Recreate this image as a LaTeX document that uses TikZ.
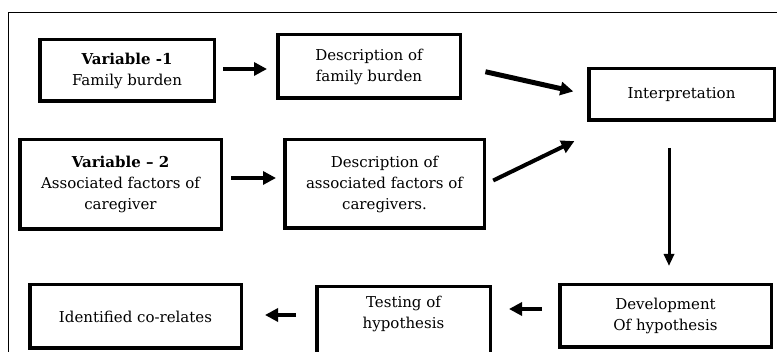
\documentclass[tikz,border=0pt]{standalone}
\usepackage{fontspec}
\setmainfont{DejaVu Serif}
\usetikzlibrary{arrows.meta}

\begin{document}
\begin{tikzpicture}[x=1pt,y=-1pt,
		box/.style={draw,line width=3.5pt,align=center,inner sep=0pt,font=\fontsize{15}{21}\selectfont},
		flow/.style={-{Triangle[length=13pt,width=13pt]},line width=4pt},
		thinflow/.style={-{Triangle[length=12pt,width=10pt]},line width=3pt}]
		\useasboundingbox (0,0) rectangle (777,352);
		\clip (0,0) rectangle (777,352);
		\draw[line width=1pt] (8,370) -- (8,13) -- (800,13);
		
		\node[box,minimum width=174.5pt,minimum height=61.5pt] (var1) at (127,70.5) {\textbf{Variable -1}\\Family burden};
		\node[box,minimum width=182.5pt,minimum height=63.5pt] (desc1) at (369,66.5) {Description of\\family burden};
		\node[box,minimum width=185.5pt,minimum height=51.5pt] (interp) at (681.5,94.5) {Interpretation};
		
		\node[box,minimum width=201.5pt,minimum height=89.5pt] (var2) at (120.5,184.5) {\textbf{Variable – 2}\\Associated factors of\\caregiver};
		\node[box,minimum width=199.5pt,minimum height=88.5pt] (desc2) at (384.5,184) {Description of\\associated factors of\\caregivers.};
		
		\node[box,minimum width=211.5pt,minimum height=63.5pt] (ident) at (135.5,316.5) {Identified co-relates};
		\node[box,minimum width=173.5pt,anchor=north,inner ysep=10pt,text depth=60pt] (test) at (403.5,284.75) {Testing of\\hypothesis};
		\node[box,minimum width=211.5pt,minimum height=62.5pt] (dev) at (665.5,316) {Development\\Of hypothesis};
		
		\draw[flow,shorten <=7pt,shorten >=9pt] ([yshift=1.5pt]var1.east) -- ([yshift=1.5pt]var1.east -| desc1.west);
		\draw[flow,line width=5pt,shorten <=24pt,shorten >=14pt] (desc1.east) -- (interp.west);
		\draw[flow,shorten <=8pt,shorten >=7pt] ([yshift=6.5pt]var2.east) -- ([yshift=6.5pt]var2.east -| desc2.west);
		\draw[flow,shorten <=8pt,shorten >=14pt] (desc2.east) -- ([yshift=-13pt]interp.south west);
		\draw[thinflow,shorten <=26pt,shorten >=17pt] ([xshift=-12.5pt]interp.south) -- ([xshift=-12.5pt]interp.south |- dev.north);
		\draw[flow,shorten <=16pt,shorten >=17pt] ([yshift=7pt]dev.west) -- ([yshift=7pt]dev.west -| test.east);
		\draw[flow,shorten <=19pt,shorten >=22pt] ([yshift=1.5pt]ident.east -| test.west) -- ([yshift=1.5pt]ident.east);
	\end{tikzpicture}
\end{document}
